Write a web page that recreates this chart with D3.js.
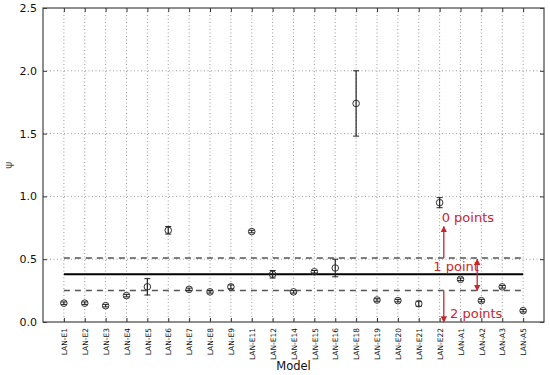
<!DOCTYPE html>
<html lang="en">
  <head>
    <meta charset="UTF-8" />
    <title>psi by model</title>
    <script src="https://cdn.jsdelivr.net/npm/d3@7"></script>
    <style>
      body { margin: 0; background: #fff; }
      text { font-family: "DejaVu Sans", sans-serif; }
    </style>
  </head>
  <body>
    <svg width="550" height="375"></svg>
  </body>

  <script>
    // data
    var models = ['LAN-E1', 'LAN-E2', 'LAN-E3', 'LAN-E4', 'LAN-E5', 'LAN-E6', 'LAN-E7', 'LAN-E8', 'LAN-E9',
      'LAN-E11', 'LAN-E12', 'LAN-E14', 'LAN-E15', 'LAN-E16', 'LAN-E18', 'LAN-E19', 'LAN-E20', 'LAN-E21',
      'LAN-E22', 'LAN-A1', 'LAN-A2', 'LAN-A3', 'LAN-A5'];
    var psi = [0.15, 0.15, 0.13, 0.21, 0.28, 0.73, 0.26, 0.24, 0.28, 0.72, 0.38, 0.24, 0.40, 0.43, 1.74,
      0.175, 0.17, 0.145, 0.95, 0.34, 0.17, 0.28, 0.09];
    var err = [0.01, 0.01, 0.01, 0.01, 0.065, 0.03, 0.01, 0.01, 0.015, 0.01, 0.03, 0.01, 0.01, 0.07, 0.26,
      0.01, 0.01, 0.02, 0.04, 0.01, 0.01, 0.01, 0.01];
    var yTicks = [0.0, 0.5, 1.0, 1.5, 2.0, 2.5];
    var meanLine = 0.38;
    var upperLine = 0.51;
    var lowerLine = 0.25;

    var margin = { top: 8, right: 6, bottom: 53, left: 43 };
    var svg = d3.select('svg');
    var width = +svg.attr('width') - margin.left - margin.right;
    var height = +svg.attr('height') - margin.top - margin.bottom;
    var g = svg.append('g').attr('transform', 'translate(' + margin.left + ',' + margin.top + ')');

    var x = d3.scaleLinear().domain([-1, models.length]).range([0, width]);
    var y = d3.scaleLinear().domain([0, 2.5]).range([height, 0]);

    // grid
    var grid = g.append('g').attr('stroke', '#999').attr('stroke-width', 1).attr('stroke-dasharray', '1,2.5');
    grid.selectAll('.gx').data(d3.range(models.length)).enter().append('line')
      .attr('x1', function (d) { return x(d); }).attr('x2', function (d) { return x(d); })
      .attr('y1', 0).attr('y2', height);
    grid.selectAll('.gy').data(yTicks.slice(1, -1)).enter().append('line')
      .attr('x1', 0).attr('x2', width)
      .attr('y1', function (d) { return y(d); }).attr('y2', function (d) { return y(d); });

    // axes, ticks inward
    var ax = g.append('g').attr('transform', 'translate(0,' + height + ')')
      .call(d3.axisBottom(x).tickValues(d3.range(models.length)).tickFormat(function (i) { return models[i]; }).tickSize(-4));
    ax.selectAll('text')
      .attr('transform', 'rotate(-90)')
      .attr('x', -6).attr('y', 0).attr('dy', '0.35em')
      .attr('text-anchor', 'end')
      .attr('font-size', 7.5).attr('fill', '#111');
    g.append('g').call(d3.axisTop(x).tickValues(d3.range(models.length)).tickSize(-4).tickFormat(''));

    var ay = g.append('g').call(d3.axisLeft(y).tickValues(yTicks).tickFormat(d3.format('.1f')).tickSize(-4).tickPadding(6));
    ay.selectAll('text').attr('font-size', 11).attr('fill', '#111');
    g.append('g').attr('transform', 'translate(' + width + ',0)')
      .call(d3.axisRight(y).tickValues(yTicks).tickSize(-4).tickFormat(''));
    g.selectAll('.domain').remove();
    g.selectAll('.tick line').attr('stroke', '#333');

    g.append('rect').attr('width', width).attr('height', height)
      .attr('fill', 'none').attr('stroke', '#444').attr('stroke-width', 1.2);

    // reference lines
    var x0 = x(0), x1 = x(models.length - 1);
    g.append('line').attr('x1', x0).attr('x2', x1).attr('y1', y(meanLine)).attr('y2', y(meanLine))
      .attr('stroke', '#000').attr('stroke-width', 2);
    [upperLine, lowerLine].forEach(function (v) {
      g.append('line').attr('x1', x0).attr('x2', x1).attr('y1', y(v)).attr('y2', y(v))
        .attr('stroke', '#555').attr('stroke-width', 1.5).attr('stroke-dasharray', '6,5');
    });

    // error bars + markers
    var pts = g.selectAll('.pt').data(psi).enter().append('g');
    pts.append('line')
      .attr('x1', function (d, i) { return x(i); }).attr('x2', function (d, i) { return x(i); })
      .attr('y1', function (d, i) { return y(d - err[i]); }).attr('y2', function (d, i) { return y(d + err[i]); })
      .attr('stroke', '#222').attr('stroke-width', 1.2);
    [-1, 1].forEach(function (s) {
      pts.append('line')
        .attr('x1', function (d, i) { return x(i) - 3; }).attr('x2', function (d, i) { return x(i) + 3; })
        .attr('y1', function (d, i) { return y(d + s * err[i]); }).attr('y2', function (d, i) { return y(d + s * err[i]); })
        .attr('stroke', '#222').attr('stroke-width', 1);
    });
    pts.append('circle')
      .attr('cx', function (d, i) { return x(i); }).attr('cy', function (d) { return y(d); })
      .attr('r', 3.3).attr('fill', 'none').attr('stroke', '#333').attr('stroke-width', 1);

    // axis titles
    svg.append('text').attr('x', margin.left + width / 2).attr('y', 370)
      .attr('text-anchor', 'middle').attr('font-size', 11.5).attr('fill', '#111').text('Model');
    svg.append('text').attr('transform', 'translate(12,' + (margin.top + height / 2) + ') rotate(-90)')
      .attr('text-anchor', 'middle').attr('font-size', 11).attr('fill', '#555').text('ψ');

    // red annotations
    var red = '#c8262b';
    svg.append('defs').append('marker').attr('id', 'ah').attr('viewBox', '0 0 10 10')
      .attr('refX', 9).attr('refY', 5).attr('markerWidth', 5).attr('markerHeight', 6)
      .attr('orient', 'auto-start-reverse')
      .append('path').attr('d', 'M0,0 L10,5 L0,10 z').attr('fill', red);
    var ann = g.append('g').attr('stroke', red).attr('stroke-width', 1.3);
    ann.append('line').attr('x1', x(18.2)).attr('x2', x(18.2)).attr('y1', y(upperLine)).attr('y2', y(0.76))
      .attr('marker-end', 'url(#ah)');
    ann.append('line').attr('x1', x(19.8)).attr('x2', x(19.8)).attr('y1', y(upperLine - 0.01)).attr('y2', y(lowerLine))
      .attr('marker-start', 'url(#ah)').attr('marker-end', 'url(#ah)');
    ann.append('line').attr('x1', x(18.2)).attr('x2', x(18.2)).attr('y1', y(lowerLine)).attr('y2', y(0))
      .attr('marker-end', 'url(#ah)');
    var labs = [['0 points', 18.1, 0.8], ['1 point', 17.7, 0.41], ['2 points', 18.5, 0.03]];
    g.selectAll('.lab').data(labs).enter().append('text')
      .attr('x', function (d) { return x(d[1]); }).attr('y', function (d) { return y(d[2]); })
      .attr('font-family', '"Liberation Sans", Arial, sans-serif').attr('font-size', 13)
      .attr('fill', red).text(function (d) { return d[0]; });
  </script>
</html>
